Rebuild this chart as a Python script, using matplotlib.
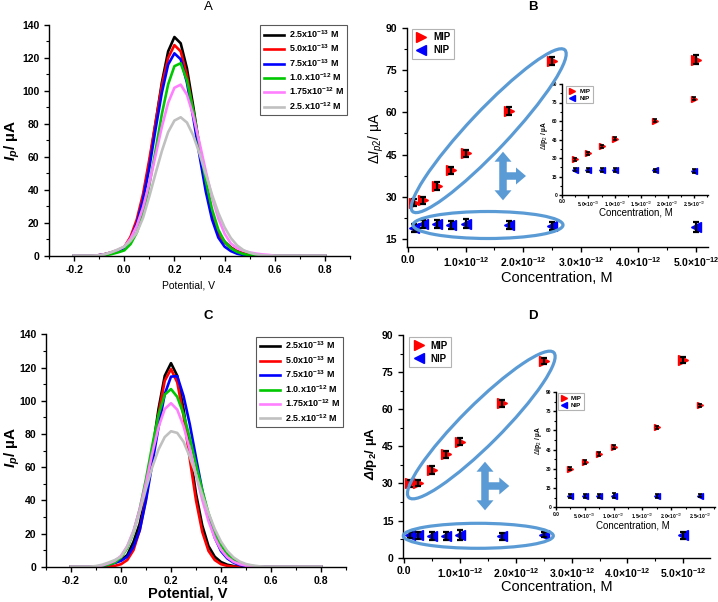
import numpy as np
import matplotlib.pyplot as plt
from matplotlib.patches import Ellipse, FancyArrow
from matplotlib.ticker import MultipleLocator, FixedLocator

plt.rcParams['font.family'] = ['Liberation Sans', 'DejaVu Sans']
plt.rcParams['mathtext.fontset'] = 'custom'
plt.rcParams['mathtext.rm'] = 'Liberation Sans'
plt.rcParams['mathtext.it'] = 'Liberation Sans:italic'
plt.rcParams['mathtext.bf'] = 'Liberation Sans:bold'
plt.rcParams['mathtext.bfit'] = 'Liberation Sans:italic:bold'
plt.rcParams['axes.unicode_minus'] = False

W, H = 718, 602

# ---- DPV curves (panels A and C) ----
potential = np.linspace(-0.2, 0.8, 41)
legend_labels = ['2.5x10$^{\\mathbf{-13}}$ M', '5.0x10$^{\\mathbf{-13}}$ M', '7.5x10$^{\\mathbf{-13}}$ M',
                 '1.0.x10$^{\\mathbf{-12}}$ M', '1.75x10$^{\\mathbf{-12}}$ M', '2.5.x10$^{\\mathbf{-12}}$ M']
curve_colors = ['black', 'red', 'blue', '#00c800', '#ff80ff', '#c0c0c0']
pot_ticks = [-0.2, 0.0, 0.2, 0.4, 0.6, 0.8]
pot_ticklabels = ['-0.2', '0.0', '0.2', '0.4', '0.6', '0.8']

a_black = [0, 0, 0, 0, 0.3, 1.0, 2.0, 3.2, 5.0, 10.6, 20.3, 35.5, 56.3, 80.7, 105.1, 124.0,
           132.7, 128.9, 113.6, 90.7, 65.7, 43.2, 25.7, 14.0, 8.5, 5.0, 2.8, 1.4, 0.5, 0.1,
           0, 0, 0, 0, 0, 0, 0, 0, 0, 0, 0]
a_red = [0, 0, 0, 0, 0.3, 1.0, 2.1, 3.3, 5.2, 11.5, 22.0, 37.5, 58.5, 81.0, 103.5, 120.0,
         127.8, 124.0, 109.3, 87.3, 63.2, 41.6, 24.7, 13.4, 8.2, 4.8, 2.6, 1.3, 0.4, 0.1,
         0, 0, 0, 0, 0, 0, 0, 0, 0, 0, 0]
a_blue = [0, 0, 0, 0, 0.3, 0.9, 1.9, 3.0, 4.6, 10.0, 19.5, 34.0, 53.5, 77.0, 99.0, 116.0,
          122.8, 119.2, 105.0, 83.9, 60.8, 39.0, 22.0, 11.0, 5.5, 2.8, 1.2, 0.4, 0.1, 0,
          0, 0, 0, 0, 0, 0, 0, 0, 0, 0, 0]
a_green = [0, 0, 0, 0, 0, 0.3, 1.0, 2.0, 3.2, 7.0, 14.0, 25.3, 43.0, 64.0, 86.0, 104.0,
           115.0, 116.8, 106.4, 88.3, 66.6, 45.5, 28.2, 15.8, 8.5, 4.5, 2.3, 1.0, 0.3, 0,
           0, 0, 0, 0, 0, 0, 0, 0, 0, 0, 0]
a_pink = [0, 0, 0, 0, 0.3, 1.0, 2.2, 3.6, 5.5, 10.4, 18.2, 29.4, 44.0, 61.0, 78.2, 92.8,
          101.9, 103.8, 97.7, 85.1, 68.6, 51.3, 35.5, 22.7, 13.4, 7.4, 4.5, 3.0, 2.0, 1.3,
          0.8, 0.5, 0, 0, 0, 0, 0, 0, 0, 0, 0]
a_gray = [0, 0, 0, 0, 0.2, 1.0, 2.2, 3.8, 5.5, 9.0, 14.0, 23.0, 36.0, 50.0, 63.5, 75.0,
          82.0, 84.0, 80.8, 73.0, 62.0, 49.4, 37.0, 26.0, 17.2, 10.7, 6.2, 3.4, 1.8, 0.8,
          0.3, 0, 0, 0, 0, 0, 0, 0, 0, 0, 0]

c_black = [0, 0, 0, 0, 0, 0.5, 1.5, 2.5, 4.0, 7.0, 15.0, 26.0, 44.0, 69.0, 95.0, 115.0,
           122.6, 115.0, 95.0, 69.0, 44.0, 24.9, 12.4, 6.0, 2.8, 1.2, 0.4, 0, 0, 0,
           0, 0, 0, 0, 0, 0, 0, 0, 0, 0, 0]
c_red = [0, 0, 0, 0, 0, 0, 0, 0.5, 1.5, 4.0, 10.0, 22.0, 41.0, 66.0, 92.0, 112.0,
         119.0, 111.0, 91.0, 65.0, 40.0, 21.0, 9.5, 4.0, 1.5, 0.5, 0, 0, 0, 0,
         0, 0, 0, 0, 0, 0, 0, 0, 0, 0, 0]
c_blue = [0, 0, 0, 0, 0, 0.4, 1.2, 2.3, 3.5, 6.0, 12.0, 22.0, 40.0, 62.0, 84.0, 104.0,
          114.5, 114.8, 102.9, 85.9, 65.7, 46.0, 29.7, 17.5, 9.4, 5.0, 2.5, 1.0, 0.3, 0,
          0, 0, 0, 0, 0, 0, 0, 0, 0, 0, 0]
c_green = [0, 0, 0, 0, 0, 0.5, 1.2, 2.5, 5.5, 11.2, 20.7, 34.8, 52.9, 73.0, 91.4, 103.7,
           107.0, 102.3, 92.0, 77.7, 61.6, 46.0, 32.2, 21.2, 13.1, 7.6, 4.2, 2.1, 1.0, 0.4,
           0, 0, 0, 0, 0, 0, 0, 0, 0, 0, 0]
c_pink = [0, 0, 0, 0, 0, 0.8, 2.0, 3.5, 6.5, 12.4, 21.7, 34.6, 50.6, 68.2, 84.0, 95.0,
          98.5, 94.6, 84.8, 70.9, 55.4, 40.3, 27.4, 17.3, 10.2, 5.7, 3.0, 1.5, 0.6, 0.2,
          0, 0, 0, 0, 0, 0, 0, 0, 0, 0, 0]
c_gray = [0, 0, 0, 0, 0.4, 1.2, 2.5, 4.0, 6.0, 12.0, 21.0, 33.0, 47.0, 60.0, 70.6, 78.1,
          81.6, 80.6, 75.3, 66.3, 55.3, 43.5, 32.4, 22.7, 15.1, 9.5, 5.6, 3.1, 1.6, 0.8,
          0.3, 0, 0, 0, 0, 0, 0, 0, 0, 0, 0]

curves_a = [a_black, a_red, a_blue, a_green, a_pink, a_gray]
curves_c = [c_black, c_red, c_blue, c_green, c_pink, c_gray]

# ---- calibration data (panels B and D) ----
conc = [1e-13, 2.5e-13, 5e-13, 7.5e-13, 1e-12, 1.75e-12, 2.5e-12, 5e-12]
mip_b = [27.9, 28.8, 33.8, 39.4, 45.5, 60.4, 78.2, 78.7]
mip_b_err = [1.3, 1.2, 1.3, 1.3, 1.2, 1.3, 1.3, 1.5]
nip_b = [18.9, 20.4, 20.4, 20.0, 20.4, 20.0, 19.6, 19.2]
nip_b_err = [1.4, 1.3, 1.5, 1.5, 1.6, 1.3, 1.4, 1.8]
mip_d = [30.1, 30.1, 35.4, 41.8, 46.9, 62.4, 79.5, 79.9]
mip_d_err = [1.4, 1.3, 1.5, 1.4, 1.5, 1.3, 1.2, 1.3]
nip_d = [9.2, 9.0, 8.8, 8.6, 9.2, 8.6, 9.2, 9.0]
nip_d_err = [1.2, 1.4, 1.5, 1.6, 2.0, 1.5, 1.0, 1.3]

conc_ticks = [0, 1e-12, 2e-12, 3e-12, 4e-12, 5e-12]
conc_ticklabels = ['0.0', '1.0×10$^{\\mathbf{-12}}$', '2.0×10$^{\\mathbf{-12}}$', '3.0×10$^{\\mathbf{-12}}$',
                   '4.0×10$^{\\mathbf{-12}}$', '5.0×10$^{\\mathbf{-12}}$']
inset_ticks = [0, 5e-13, 1e-12, 1.5e-12, 2e-12, 2.5e-12]
inset_ticklabels = ['0.0', '5.0×10$^{-13}$', '1.0×10$^{-12}$', '1.5×10$^{-12}$', '2.0×10$^{-12}$', '2.5×10$^{-12}$']
resp_ticks = [0, 15, 30, 45, 60, 75, 90]


def box(l, t, r, b):
    return [l / W, 1 - b / H, (r - l) / W, (b - t) / H]


def fig_text(x, y, s, **kw):
    fig.text(x / W, 1 - y / H, s, ha='center', va='center', **kw)


def clean(ax, size, length=3.5):
    for side in ['top', 'right']:
        ax.spines[side].set_visible(False)
    for side in ['left', 'bottom']:
        ax.spines[side].set_linewidth(1.0)
    ax.tick_params(which='major', direction='out', length=length, width=1.0, labelsize=size)
    ax.tick_params(which='minor', direction='out', length=length * 0.55, width=0.8)
    for lab in ax.get_xticklabels() + ax.get_yticklabels():
        lab.set_fontweight('bold')


fig = plt.figure(figsize=(W / 100, H / 100), dpi=100)

# ---- A and C ----
for curves, rect, leg_anchor in [(curves_a, box(49, 25, 350, 255.7), (0.99, 1.0)),
                                 (curves_c, box(46, 334.3, 346, 566.7), (0.99, 0.99))]:
    ax = fig.add_axes(rect)
    for y, col, lab in zip(curves, curve_colors, legend_labels):
        ax.plot(potential, y, color=col, lw=1.9, label=lab)
    ax.set_xlim(-0.3, 0.9)
    ax.set_ylim(0, 140)
    ax.xaxis.set_major_locator(FixedLocator(pot_ticks))
    ax.set_xticklabels(pot_ticklabels)
    ax.xaxis.set_minor_locator(MultipleLocator(0.1))
    ax.yaxis.set_major_locator(MultipleLocator(20))
    ax.yaxis.set_minor_locator(MultipleLocator(10))
    clean(ax, 7.5)
    leg = ax.legend(loc='upper right', bbox_to_anchor=leg_anchor, borderaxespad=0, fancybox=False,
                    prop={'size': 6.5, 'weight': 'bold'}, handlelength=2.3, handletextpad=0.5,
                    labelspacing=0.3, borderpad=0.35)
    leg.get_frame().set_edgecolor('#303030')
    leg.get_frame().set_linewidth(0.8)

ylab_ip = '$\\mathbfit{I}_{\\mathbfit{p}}$/ µA'
fig_text(208, 7, 'A', fontsize=9.5)
fig_text(12, 140, ylab_ip, rotation=90, fontsize=11, fontweight='bold')
fig_text(188, 285, 'Potential, V', fontsize=7.5)
fig_text(208, 316, 'C', fontsize=9.5, fontweight='bold')
fig_text(12, 447, ylab_ip, rotation=90, fontsize=11, fontweight='bold')
fig_text(188, 593, 'Potential, V', fontsize=10.5, fontweight='bold')


# ---- B and D ----
def calib(ax, x, mip, mip_err, nip, nip_err, ms, size, cap):
    ax.plot(x, mip, ls='none', marker='>', ms=ms, color='red', mec='red', label='MIP', zorder=2)
    ax.plot(x, nip, ls='none', marker='<', ms=ms, color='blue', mec='blue', label='NIP', zorder=2)
    ax.errorbar(x, mip, yerr=mip_err, fmt='none', ecolor='black', elinewidth=size, capsize=cap,
                capthick=size, zorder=3)
    ax.errorbar(x, nip, yerr=nip_err, fmt='none', ecolor='black', elinewidth=size, capsize=cap,
                capthick=size, zorder=3)


def calib_legend(ax, anchor, size):
    leg = ax.legend(loc='upper left', bbox_to_anchor=anchor, borderaxespad=0, fancybox=False,
                    prop={'size': size, 'weight': 'bold'}, handlelength=1.2, handletextpad=0.6,
                    labelspacing=0.3, borderpad=0.35)
    leg.get_frame().set_edgecolor('#a0a0a0')
    leg.get_frame().set_linewidth(0.8)


for rect, irect, mip, mip_err, nip, nip_err, xlim, ylim, ianchor, anchor in [
        (box(407, 27.7, 708, 246.7), box(562, 84, 708, 195), mip_b, mip_b_err, nip_b, nip_b_err,
         (-0.02e-12, 5.21e-12), (12.3, 90), (0.03, 0.98), (0.017, 0.995)),
        (box(403.3, 335, 710, 557.7), box(556, 392, 715, 507.3), mip_d, mip_d_err, nip_d, nip_d_err,
         (-0.018e-12, 5.48e-12), (0, 90), (0.01, 0.99), (0.02, 0.99))]:
    ax = fig.add_axes(rect)
    calib(ax, conc, mip, mip_err, nip, nip_err, 7, 1.6, 2)
    ax.set_xlim(*xlim)
    ax.set_ylim(*ylim)
    ax.xaxis.set_major_locator(FixedLocator(conc_ticks))
    ax.set_xticklabels(conc_ticklabels)
    ax.xaxis.set_minor_locator(MultipleLocator(0.5e-12))
    ax.yaxis.set_major_locator(FixedLocator(resp_ticks))
    ax.yaxis.set_minor_locator(MultipleLocator(7.5))
    clean(ax, 7.5)
    ax.tick_params(axis='x', pad=2.5)
    calib_legend(ax, anchor, 7)

    axi = fig.add_axes(irect)
    axi.patch.set_alpha(0)
    calib(axi, conc[1:7], mip[1:7], mip_err[1:7], nip[1:7], nip_err[1:7], 5, 1.2, 1.2)
    axi.set_xlim(0, 2.76e-12)
    axi.set_ylim(0, 90)
    axi.xaxis.set_major_locator(FixedLocator(inset_ticks))
    axi.set_xticklabels(inset_ticklabels)
    axi.xaxis.set_minor_locator(MultipleLocator(0.25e-12))
    axi.yaxis.set_major_locator(FixedLocator(resp_ticks))
    axi.yaxis.set_minor_locator(MultipleLocator(7.5))
    clean(axi, 3.5, length=2.0)
    axi.tick_params(pad=1.2)
    calib_legend(axi, ianchor, 4.5)

fig_text(533, 7, 'B', fontsize=9.5, fontweight='bold')
fig_text(376, 138, '$\\mathit{\\Delta I}_{p2}$/ µA', rotation=90, fontsize=10)
fig_text(557, 278, 'Concentration, M', fontsize=10.5)
fig_text(545, 135, '$\\Delta$Ip$_2$ / µA', rotation=90, fontsize=4.8, fontweight='bold')
fig_text(636, 213, 'Concentration, M', fontsize=7)

fig_text(533, 316, 'D', fontsize=9.5, fontweight='bold')
fig_text(371, 454, '$\\mathbfit{\\Delta I}$p$_{\\mathbf{2}}$/ µA', rotation=90, fontsize=9.5, fontweight='bold')
fig_text(557, 587, 'Concentration, M', fontsize=10.5)
fig_text(539, 440, '$\\Delta$Ip$_2$ / µA', rotation=90, fontsize=4.8, fontweight='bold')
fig_text(633, 525, 'Concentration, M', fontsize=7)

# ---- highlight ellipses and arrows (pixel positions) ----
hl = '#5b9bd5'
for cx, cy, w, h, ang in [(488.7, 130.7, 222, 40, 46.7), (488, 225, 150, 27, 0),
                          (481.3, 425, 205, 40, 45), (478.3, 535.8, 150, 25, 0)]:
    fig.add_artist(Ellipse((cx / 100, (H - cy) / 100), w / 100, h / 100, angle=ang, fill=False,
                           ec=hl, lw=2.3, transform=fig.dpi_scale_trans))

for cx, cy, up, down, right in [(503, 176, 24.3, 24.3, 23), (485, 486, 24.3, 24.3, 24.3)]:
    for dx, dy in [(0, up), (0, -down), (right, 0)]:
        fig.add_artist(FancyArrow(cx / 100, (H - cy) / 100, dx / 100, dy / 100, width=0.075,
                                  head_width=0.17, head_length=0.1, length_includes_head=True,
                                  color=hl, lw=0, transform=fig.dpi_scale_trans))

fig.savefig('out.png', dpi=100)
